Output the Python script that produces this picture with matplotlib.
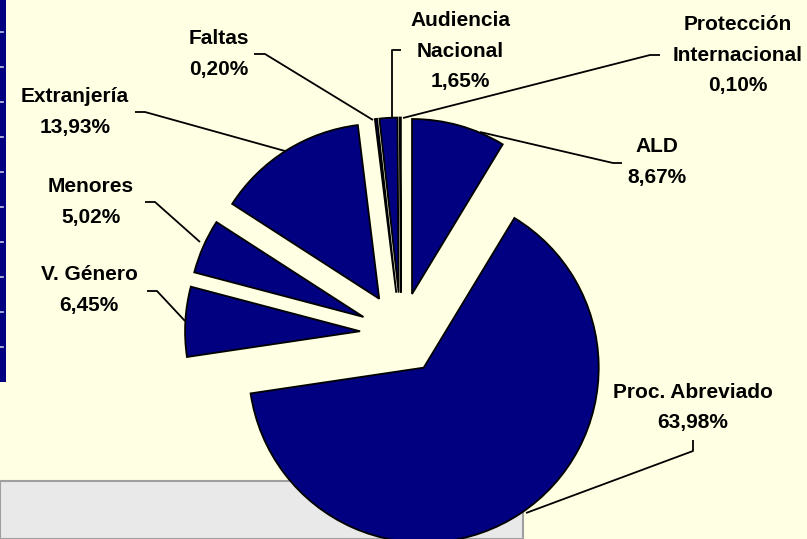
import matplotlib
matplotlib.use("Agg")
import matplotlib.pyplot as plt
from matplotlib.patches import Rectangle

# ---- data ----
categories = ["ALD", "Proc. Abreviado", "V. Género", "Menores", "Extranjería",
              "Faltas", "Audiencia\nNacional", "Protección\nInternacional"]
values = [8.67, 63.98, 6.45, 5.02, 13.93, 0.20, 1.65, 0.10]
value_labels = ["8,67%", "63,98%", "6,45%", "5,02%", "13,93%", "0,20%", "1,65%", "0,10%"]

W, H = 807, 539
BG = "#FFFFE3"
NAVY = "#000080"

fig = plt.figure(figsize=(W / 100, H / 100), dpi=100, facecolor=BG)
ax = fig.add_axes([0, 0, 1, 1])
ax.set_facecolor(BG)

def Y(y):  # pixel-from-top to data
    return H - y

# background decorations
ax.add_patch(Rectangle((0, Y(539)), 523, 539 - 481, facecolor="#E9E9E9",
                       edgecolor="#A0A0A0", lw=1.5, zorder=1))
ax.add_patch(Rectangle((0, Y(382)), 6, 382, facecolor=NAVY, edgecolor="none", zorder=1))
for yy in range(32, 360, 35):
    ax.plot([0, 3], [Y(yy), Y(yy)], color="#C8C8E8", lw=1.2, zorder=2)

radius = 175
explode = [41] * len(values)
wedges, _ = ax.pie(values, explode=explode, radius=radius, center=(401, Y(333.5)),
                   startangle=90, counterclock=False, colors=[NAVY] * len(values),
                   wedgeprops=dict(edgecolor="black", linewidth=1.3), frame=True)
for w in wedges:
    w.set_zorder(3)

ax.set_xlim(0, W)
ax.set_ylim(0, H)
ax.set_aspect("auto")
ax.axis("off")

# label positions (text centre x, first line y) and leader paths in pixel coords
label_pos = {
    "ALD": (657, 147),
    "Proc. Abreviado": (693, 392),
    "V. Género": (89, 275),
    "Menores": (91, 187),
    "Extranjería": (75, 97),
    "Faltas": (219, 39),
    "Audiencia\nNacional": (460, 21),
    "Protección\nInternacional": (738, 25),
}
leaders = {
    "ALD": [(480, 132), (613, 163), (622, 163)],
    "Proc. Abreviado": [(526, 513), (693, 451), (693, 440)],
    "V. Género": [(185, 321), (157, 291), (147, 291)],
    "Menores": [(200, 242), (155, 202), (145, 202)],
    "Extranjería": [(285, 151), (145, 112), (135, 112)],
    "Faltas": [(373, 120), (265, 54), (254, 54)],
    "Audiencia\nNacional": [(392, 118), (392, 50), (401, 50)],
    "Protección\nInternacional": [(403, 118), (650, 55), (660, 55)],
}

font = dict(family=["Liberation Sans", "DejaVu Sans"], fontsize=15, fontweight="bold",
            color="black")
LS = 30.5
for cat, vl in zip(categories, value_labels):
    x, y0 = label_pos[cat]
    lines = cat.split("\n") + [vl]
    for i, ln in enumerate(lines):
        ax.text(x, Y(y0 + i * LS), ln, ha="center", va="center", zorder=5, **font)
    pts = leaders[cat]
    ax.plot([p[0] for p in pts], [Y(p[1]) for p in pts], color="black", lw=1.3,
            zorder=4, solid_capstyle="butt")

fig.savefig("out.png", dpi=100, facecolor=BG)
